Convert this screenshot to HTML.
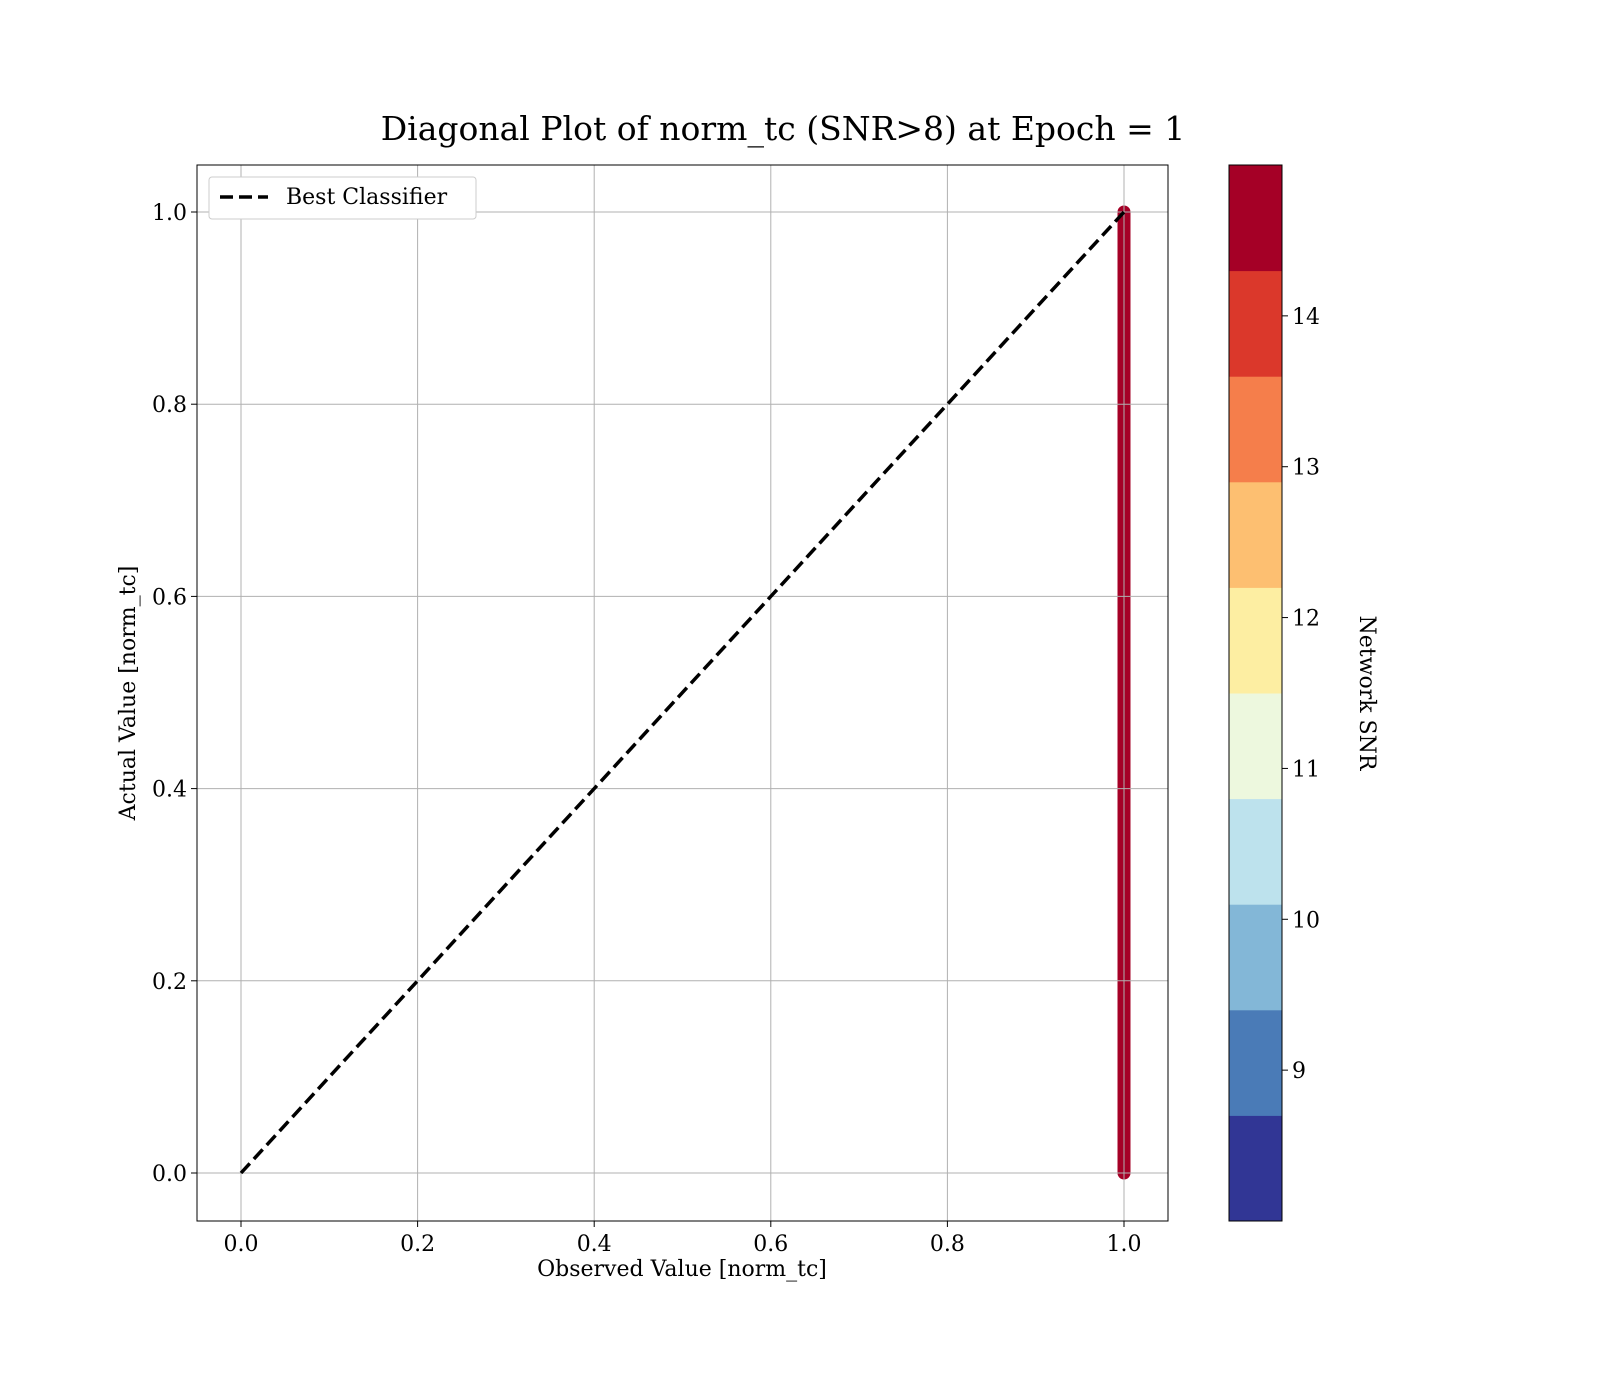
<!DOCTYPE html>
<html><head><meta charset="utf-8"><style>
body{margin:0;background:#fff;}
svg{display:block;font-family:"DejaVu Serif","Liberation Serif",serif;}
</style></head><body>
<svg id="c" width="1600" height="1400" viewBox="0 0 1600 1400">
<text x="783" y="140" font-size="33" text-anchor="middle">Diagonal Plot of norm_tc (SNR&gt;8) at Epoch = 1</text>
<g id="plot"></g>
</svg>
<script>
const xTicks=[0.0,0.2,0.4,0.6,0.8,1.0];
const yTicks=[0.0,0.2,0.4,0.6,0.8,1.0];
const cbTicks=[9,10,11,12,13,14];
const cbColors=["#313695","#4a7bb7","#83b7d7","#bde2ed","#edf8de","#fdeea2","#fdbf71","#f57e4b","#db382b","#a50026"];
const cbMin=8.0, cbMax=15.0;
const obsX=[1,1,1,1,1,1,1,1,1,1,1,1,1,1,1,1,1,1,1,1,1,1,1,1,1,1,1,1,1,1,1,1,1,1,1,1,1,1,1,1,1];
const actY=[0,0.025,0.05,0.075,0.1,0.125,0.15,0.175,0.2,0.225,0.25,0.275,0.3,0.325,0.35,0.375,0.4,0.425,0.45,0.475,0.5,0.525,0.55,0.575,0.6,0.625,0.65,0.675,0.7,0.725,0.75,0.775,0.8,0.825,0.85,0.875,0.9,0.925,0.95,0.975,1];
const snr=[14.8,14.6,14.9,14.7,14.5,14.8,14.9,14.6,14.7,14.8,14.9,14.5,14.7,14.8,14.6,14.9,14.7,14.8,14.5,14.6,14.9,14.7,14.8,14.6,14.9,14.7,14.5,14.8,14.6,14.9,14.7,14.8,14.6,14.5,14.9,14.7,14.8,14.6,14.9,14.7,14.8];
const diagX=[0,1], diagY=[0,1];

const NS="http://www.w3.org/2000/svg";
const g=document.getElementById('plot');
const L=197,R=1168,T=165,B=1221;
const X=v=>241+(v-0)*883;
const Y=v=>1173-(v-0)*961;
const CL=1229,CR=1282;
const CY=v=>B-(v-cbMin)/(cbMax-cbMin)*(B-T);
function mk(t,a,p){const e=document.createElementNS(NS,t);for(const k in a)e.setAttribute(k,a[k]);(p||g).appendChild(e);return e;}
function color(v){let i=Math.floor((v-cbMin)/(cbMax-cbMin)*cbColors.length);i=Math.max(0,Math.min(cbColors.length-1,i));return cbColors[i];}

obsX.forEach((x,i)=>{
  const c=mk('circle',{cx:X(x),cy:Y(actY[i]),r:6.5,fill:color(snr[i])});
  
  
});
const bar=mk('rect',{x:X(1)-6.5,y:Y(Math.max(...actY)),width:13,height:Y(Math.min(...actY))-Y(Math.max(...actY)),fill:color(snr[0])});



xTicks.forEach(t=>{
  const l=mk('line',{x1:X(t),x2:X(t),y1:T,y2:B,stroke:'#b0b0b0','stroke-width':1});
  
  
  mk('line',{x1:X(t),x2:X(t),y1:B,y2:B+6,stroke:'#000'});
  const tx=mk('text',{x:X(t),y:B+30,'font-size':22,'text-anchor':'middle'});
  tx.textContent=t.toFixed(1);
  
  
});
yTicks.forEach(t=>{
  const l=mk('line',{x1:L,x2:R,y1:Y(t),y2:Y(t),stroke:'#b0b0b0','stroke-width':1});
  
  
  mk('line',{x1:L-6,x2:L,y1:Y(t),y2:Y(t),stroke:'#000'});
  const tx=mk('text',{x:L-10,y:Y(t)+8,'font-size':22,'text-anchor':'end'});
  tx.textContent=t.toFixed(1);
  
  
});
const d=mk('line',{x1:X(diagX[0]),y1:Y(diagY[0]),x2:X(diagX[1]),y2:Y(diagY[1]),stroke:'#000','stroke-width':3.5,'stroke-dasharray':'13,6'});


const fr=mk('rect',{x:L,y:T,width:R-L,height:B-T,fill:'none',stroke:'#000','stroke-width':1});


const xt=mk('text',{x:682,y:1276,'font-size':22,'text-anchor':'middle'});
xt.textContent='Observed Value [norm_tc]';


const yt=mk('text',{x:135,y:693,'font-size':22,'text-anchor':'middle',transform:'rotate(-90 135 693)'});
yt.textContent='Actual Value [norm_tc]';


const lg=mk('g',{});


mk('rect',{x:209,y:177,width:267,height:42,rx:3,fill:'#fff',stroke:'#ccc'},lg);
mk('line',{x1:220,x2:268,y1:197,y2:197,stroke:'#000','stroke-width':3.5,'stroke-dasharray':'13,6'},lg);
const lt=mk('text',{x:286,y:204,'font-size':22},lg);
lt.textContent='Best Classifier';


cbColors.forEach((c,i)=>{
  const v0=cbMin+i*(cbMax-cbMin)/cbColors.length, v1=cbMin+(i+1)*(cbMax-cbMin)/cbColors.length;
  const r=mk('rect',{x:CL,y:CY(v1),width:CR-CL,height:CY(v0)-CY(v1)+0.5,fill:c});
  
  
});
const cbf=mk('rect',{x:CL,y:T,width:CR-CL,height:B-T,fill:'none',stroke:'#000'});


cbTicks.forEach(t=>{
  mk('line',{x1:CR,x2:CR+6,y1:CY(t),y2:CY(t),stroke:'#000'});
  const tx=mk('text',{x:CR+10,y:CY(t)+8,'font-size':22});
  tx.textContent=t;
  
  
});
const ct=mk('text',{x:1360,y:693,'font-size':22,'text-anchor':'middle',transform:'rotate(90 1360 693)'});
ct.textContent='Network SNR';


</script>
</body></html>
